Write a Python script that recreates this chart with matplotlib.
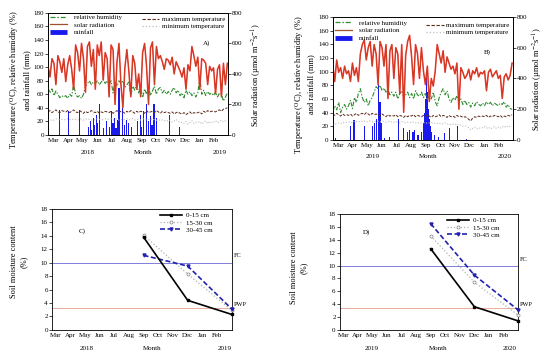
import numpy as np
import matplotlib
matplotlib.use('Agg')
import matplotlib.pyplot as plt
from matplotlib.lines import Line2D

plt.rcParams['font.family'] = 'serif'
plt.rcParams['font.serif'] = ['Liberation Serif', 'DejaVu Serif']
plt.rcParams['mathtext.fontset'] = 'stix'

months = ['Mar', 'Apr', 'May', 'Jun', 'Jul', 'Aug', 'Sep', 'Oct', 'Nov', 'Dec', 'Jan', 'Feb']

# weather records, one reading every 4 days from 1 March
day = np.arange(0, 365, 4)

solar_a = [450, 380, 500, 470, 330, 520, 480, 410,
           500, 350, 460, 520, 430, 300, 590,
           540, 420, 600, 500, 280, 580, 610, 450,
           560, 300, 590, 520, 610, 360, 540, 500,
           250, 590, 560, 200, 480, 600, 330,
           180, 440, 560, 420, 250, 520, 470, 300,
           400, 250, 540, 600, 450, 200, 570,
           610, 330, 580, 500, 520, 480, 430, 500,
           490, 460, 510, 400, 480, 450, 420,
           380, 440, 300, 460, 420, 580, 520, 450,
           510, 300, 500, 490, 470, 330, 450, 420,
           440, 270, 430, 460, 250, 470, 330, 470]
rh_a = [70, 62, 68, 58, 65, 60, 55, 58,
        56, 58, 54, 60, 57, 75, 60,
        56, 58, 54, 60, 72, 76, 80, 74,
        78, 76, 80, 74, 78, 82, 76, 80,
        75, 80, 62, 78, 72, 80, 76,
        80, 70, 74, 78, 58, 72, 66, 75,
        62, 70, 55, 68, 60, 72, 58,
        65, 72, 60, 68, 70, 62, 66, 60,
        64, 60, 66, 70, 62, 66, 58,
        62, 55, 66, 60, 64, 58, 62, 56,
        62, 85, 60, 66, 58, 64, 60, 62,
        58, 64, 56, 62, 60, 50, 56, 62]
tmax_a = [34, 36, 33, 35, 37, 34, 33, 36,
          35, 34, 36, 33, 35, 37, 34,
          33, 36, 34, 32, 35, 33, 34, 36,
          34, 33, 35, 32, 34, 33, 35, 34,
          33, 35, 32, 34, 36, 33, 35,
          34, 32, 35, 33, 36, 34, 32, 35,
          33, 35, 34, 32, 36, 33, 34,
          35, 33, 36, 34, 32, 35, 33, 34,
          33, 32, 34, 31, 33, 34, 32,
          31, 33, 30, 32, 34, 31, 33, 32,
          33, 34, 31, 35, 33, 36, 34, 35,
          35, 34, 36, 37, 35, 38, 39, 40]
tmin_a = [22, 23, 21, 22, 24, 23, 22, 23,
          23, 22, 24, 23, 22, 24, 23,
          22, 23, 24, 22, 23, 24, 23, 22,
          23, 22, 24, 23, 22, 23, 24, 23,
          23, 24, 22, 23, 24, 22, 23,
          22, 23, 24, 22, 23, 24, 22, 23,
          23, 22, 24, 23, 22, 23, 24,
          22, 23, 22, 21, 23, 22, 21, 22,
          20, 22, 19, 21, 23, 20, 18,
          19, 17, 20, 16, 18, 21, 17, 19,
          18, 20, 16, 19, 21, 17, 20, 18,
          19, 21, 18, 20, 22, 19, 21, 22]
rain_day_a = [23, 41, 64, 83, 86, 89, 92, 95, 98, 101, 105, 112, 118, 124, 128, 132,
              135, 138, 141, 144, 151, 156, 160, 164, 169, 181, 187, 190, 194, 199,
              204, 208, 211, 215, 220, 247, 267]
rain_mm_a = [37, 35, 37, 12, 20, 8, 25, 15, 30, 18, 45, 10, 20, 12, 35, 18,
             25, 10, 22, 70, 40, 15, 22, 18, 12, 20, 30, 12, 35, 45,
             20, 28, 15, 45, 25, 30, 12]

solar_b = [490, 380, 520, 440, 470, 400, 480, 430,
           450, 380, 500, 420, 470, 380, 560,
           620, 650, 520, 600, 640, 480, 620, 560,
           360, 640, 600, 480, 620, 270, 580, 620,
           400, 600, 560, 300, 620, 180, 550,
           640, 680, 540, 360, 620, 560, 400, 600,
           450, 360, 480, 250, 400, 350, 450,
           620, 560, 500, 580, 440, 540, 500, 460,
           480, 430, 500, 200, 470, 440, 400,
           420, 460, 390, 450, 430, 470, 410, 440,
           430, 450, 320, 440, 460, 410, 430, 450,
           400, 420, 270, 410, 430, 390, 420, 500]
rh_b = [42, 50, 44, 55, 40, 48, 52, 45,
        50, 58, 46, 62, 55, 68, 75,
        62, 55, 60, 50, 58, 62, 70, 78,
        75, 80, 72, 76, 70, 74, 66, 70,
        64, 70, 60, 68, 72, 62, 66,
        70, 62, 68, 60, 72, 66, 64, 70,
        62, 68, 58, 66, 60, 70, 56,
        50, 62, 70, 75, 66, 72, 60, 55,
        62, 58, 65, 55, 60, 52, 58,
        52, 55, 48, 54, 50, 56, 52, 50,
        54, 50, 56, 52, 55, 50, 54, 52,
        50, 54, 52, 56, 48, 52, 46, 45]
tmax_b = [38, 36, 39, 37, 35, 38, 36, 37,
          36, 38, 35, 37, 39, 36, 38,
          39, 37, 40, 38, 36, 39, 37, 38,
          37, 35, 38, 36, 34, 37, 35, 36,
          35, 37, 34, 36, 35, 33, 36,
          34, 36, 35, 37, 34, 36, 35, 34,
          36, 34, 37, 35, 33, 36, 34,
          35, 37, 34, 36, 35, 33, 36, 34,
          35, 33, 36, 34, 35, 33, 34,
          33, 30, 28, 32, 34, 33, 35, 34,
          35, 34, 36, 33, 35, 34, 36, 35,
          34, 36, 33, 35, 34, 36, 35, 37]
tmin_b = [22, 24, 23, 25, 24, 26, 25, 26,
          26, 27, 25, 28, 27, 26, 28,
          27, 28, 26, 27, 28, 27, 26, 28,
          27, 26, 28, 27, 26, 27, 28, 26,
          26, 27, 26, 25, 27, 26, 25,
          26, 25, 27, 26, 25, 26, 24, 25,
          25, 26, 24, 25, 26, 24, 25,
          24, 25, 23, 24, 25, 23, 24, 22,
          23, 22, 24, 21, 22, 20, 21,
          20, 18, 15, 17, 19, 16, 18, 17,
          18, 20, 17, 19, 16, 18, 20, 17,
          19, 17, 20, 18, 21, 19, 20, 22]
rain_day_b = [6, 36, 43, 64, 80, 85, 89, 93, 96, 99, 105, 116, 134, 143, 151, 156,
              163, 166, 173, 180, 185, 187, 189, 191, 193, 195, 197, 199, 201, 207,
              214, 227, 237, 254, 271]
rain_mm_b = [3, 20, 29, 20, 20, 25, 30, 82, 55, 25, 3, 5, 30, 18, 12, 15,
             12, 15, 8, 12, 25, 40, 60, 95, 70, 45, 30, 20, 12, 8,
             5, 10, 18, 20, 2]

# soil moisture (%), sampled Sep, Dec and the following Mar
soil_month_idx = [6, 9, 12]
c_0_15 = [13.8, 4.4, 2.3]
c_15_30 = [14.1, 8.3, 2.9]
c_30_45 = [11.1, 9.5, 3.1]
d_0_15 = [12.6, 3.6, 1.4]
d_15_30 = [14.6, 7.4, 2.3]
d_30_45 = [16.5, 8.5, 3.1]
fc_c, pwp_c = 10.0, 3.3
fc_d, pwp_d = 10.0, 3.4

FS = 5


def year_row(ax, y, first, last, xs):
    ax.text(xs[0], y, first, transform=ax.transAxes, ha='center', va='center', fontsize=FS)
    ax.text(xs[1], y, 'Month', transform=ax.transAxes, ha='center', va='center', fontsize=FS)
    ax.text(xs[2], y, last, transform=ax.transAxes, ha='center', va='center', fontsize=FS)


def weather(rect, solar, rh, tmax, tmin, rday, rmm, tag, tag_xy, years, yr_y, leg_y, lab_x):
    ax = fig.add_axes(rect)
    ax.bar(rday, rmm, width=2.3, color='#1a1aee', zorder=2)
    ax.plot(day, tmin, color='#bdbdbd', ls=':', lw=0.8, zorder=3)
    ax.plot(day, tmax, color='#5a2a18', ls=(0, (3, 1.5)), lw=0.7, zorder=3)
    ax.plot(day, rh, color='#2e8b2e', ls=(0, (4, 1.5, 1.2, 1.5)), lw=0.8, zorder=3)
    ax.set_xlim(0, 365)
    ax.set_ylim(0, 180)
    ax.set_yticks(np.arange(0, 181, 20))
    ax.set_xticks(11 + 29.7 * np.arange(12))
    ax.set_xticklabels(months)
    ax.tick_params(axis='y', labelsize=FS, length=2, width=0.5, pad=1)
    ax.tick_params(axis='x', labelsize=FS, length=0, pad=2)

    ax2 = ax.twinx()
    ax2.plot(day, solar, color='#f02a22', lw=1.1)
    ax2.plot(day, solar, color='#9a5a2a', lw=0.3, alpha=0.8)
    ax2.set_ylim(0, 800)
    ax2.set_yticks([0, 200, 400, 600, 800])
    ax2.tick_params(axis='y', labelsize=FS, length=2, width=0.5, pad=1)
    for a in (ax, ax2):
        for s in a.spines.values():
            s.set_linewidth(0.6)

    h_rh = Line2D([], [], color='#2e8b2e', ls=(0, (4, 1.5, 1.2, 1.5)), lw=0.9)
    h_sol = Line2D([], [], color='#a0522d', lw=0.9)
    h_rain = Line2D([], [], color='#1a1aee', lw=3.5, solid_capstyle='butt')
    h_max = Line2D([], [], color='#5a2a18', ls=(0, (3, 1.5)), lw=0.8)
    h_min = Line2D([], [], color='#bdbdbd', ls=':', lw=0.9)
    leg1 = ax2.legend([h_rh, h_sol, h_rain], ['relative humidity', 'solar radiation', 'rainfall'],
                      loc='upper left', bbox_to_anchor=(0.01, leg_y), frameon=False,
                      fontsize=FS, handlelength=2.5, handletextpad=1.0, labelspacing=0.25,
                      borderpad=0, borderaxespad=0)
    ax2.add_artist(leg1)
    ax2.legend([h_max, h_min], ['maximum temperature', 'minimum temperature'],
               loc='upper left', bbox_to_anchor=(0.52, leg_y - 0.02), frameon=False,
               fontsize=FS, handlelength=2.5, handletextpad=0.4, labelspacing=0.15,
               borderpad=0, borderaxespad=0)

    ax.text(tag_xy[0], tag_xy[1], tag, transform=ax.transAxes, fontsize=FS, ha='center', va='center')
    ax.text(lab_x[0], 0.45, 'Temperature ($\\mathregular{^{O}}$C), relative humidity (%)\nand rainfall (mm)',
            transform=ax.transAxes, rotation=90, ha='center', va='center', fontsize=6)
    ax.text(lab_x[1], 0.49, 'Solar radiation (µmol m$^{-2}$s$^{-1}$)',
            transform=ax.transAxes, rotation=90, ha='center', va='center', fontsize=6)
    year_row(ax, yr_y, years[0], years[1], (0.22, 0.53, 0.955))
    return ax


def soil(rect, s1, s2, s3, fc, pwp, tag, tag_xy, years, yr_y, xs, lab_x, lab_y):
    ax = fig.add_axes(rect)
    xpos = np.array(soil_month_idx, dtype=float)
    ax.axhline(fc, color='#6a6ad8', lw=0.6)
    ax.axhline(pwp, color='#e6a08c', lw=0.6)
    ax.plot(xpos, s2, color='#a8b8a8', ls=':', lw=0.9, marker='o', ms=2.2,
            mfc='white', mec='#808080', mew=0.5, clip_on=False, label='15-30 cm', zorder=3)
    ax.plot(xpos, s3, color='#2222b0', ls=(0, (3, 1.5)), lw=1.2, marker='v', ms=2.2,
            mfc='#2222b0', mec='#2222b0', clip_on=False, label='30-45 cm', zorder=4)
    ax.plot(xpos, s1, color='black', lw=1.2, marker='s', ms=2,
            clip_on=False, label='0-15 cm', zorder=5)
    h, l = ax.get_legend_handles_labels()
    order = [2, 0, 1]
    ax.legend([h[i] for i in order], [l[i] for i in order], loc='upper left',
              bbox_to_anchor=(0.6, 0.97), frameon=False, fontsize=FS,
              handlelength=3.2, handletextpad=0.6, labelspacing=0.2,
              borderpad=0, borderaxespad=0)
    ax.set_xlim(-0.23, 12)
    ax.set_ylim(0, 18)
    ax.set_yticks(np.arange(0, 19, 2))
    ax.set_xticks(np.arange(12))
    ax.set_xticklabels(months)
    ax.tick_params(axis='y', labelsize=FS, length=2, width=0.5, pad=1)
    ax.tick_params(axis='x', labelsize=FS, length=0, pad=2)
    for s in ax.spines.values():
        s.set_linewidth(0.6)
    ax.text(12.1, fc + 1.0, 'FC', fontsize=4.5, ha='left', va='center', clip_on=False)
    ax.text(12.1, pwp + 0.5, 'PWP', fontsize=4.5, ha='left', va='center', clip_on=False)
    ax.text(tag_xy[0], tag_xy[1], tag, transform=ax.transAxes, fontsize=FS, ha='center', va='center')
    ax.text(lab_x, lab_y, 'Soil moisture content\n(%)', transform=ax.transAxes,
            rotation=90, ha='center', va='center', fontsize=6)
    year_row(ax, yr_y, years[0], years[1], xs)
    return ax


fig = plt.figure(figsize=(5.5, 3.59), dpi=100)

weather([0.0873, 0.624, 0.327, 0.340], solar_a, rh_a, tmax_a, tmin_a, rain_day_a, rain_mm_a,
        'A)', (0.88, 0.75), ('2018', '2019'), -0.14, 0.99, (-0.158, 1.159))
weather([0.605, 0.61, 0.327, 0.343], solar_b, rh_b, tmax_b, tmin_b, rain_day_b, rain_mm_b,
        'B)', (0.86, 0.715), ('2019', '2020'), -0.13, 0.975, (-0.161, 1.139))

soil([0.0945, 0.081, 0.327, 0.337], c_0_15, c_15_30, c_30_45, fc_c, pwp_c,
     'C)', (0.17, 0.82), ('2018', '2019'), -0.157, (0.194, 0.559, 0.96), -0.183, 0.56)
soil([0.618, 0.081, 0.324, 0.323], d_0_15, d_15_30, d_30_45, fc_d, pwp_d,
     'D)', (0.15, 0.845), ('2019', '2020'), -0.164, (0.178, 0.551, 0.953), -0.23, 0.535)

fig.savefig('out.png', dpi=100)
